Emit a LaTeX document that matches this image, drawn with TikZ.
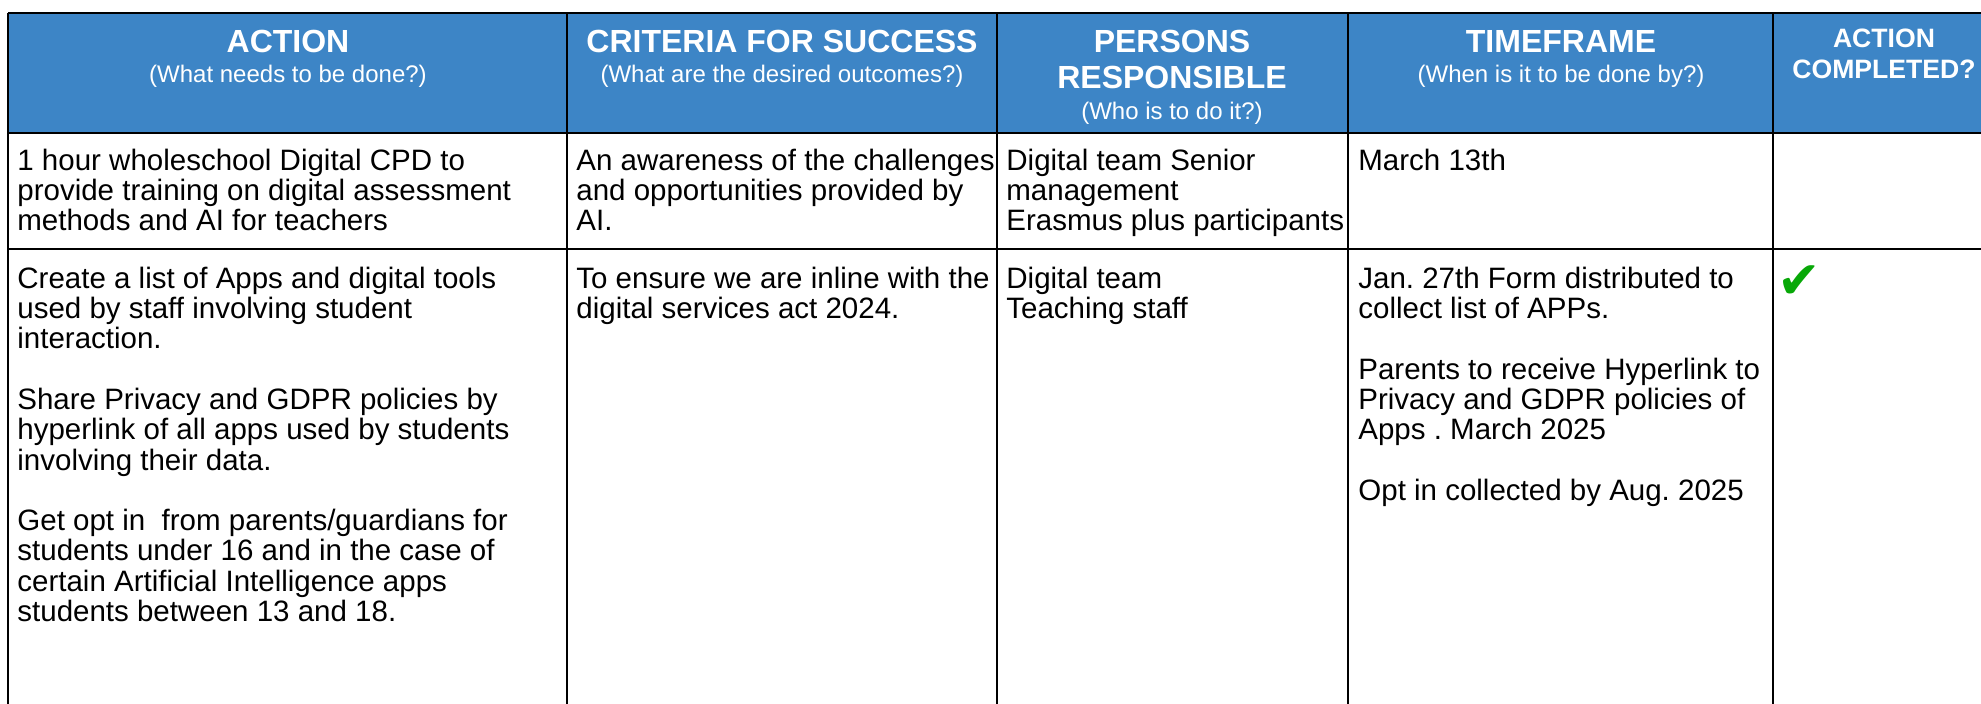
\documentclass[tikz,border=0pt]{standalone}
\usepackage{xcolor}
\usepackage{fontspec}
\setmainfont{Liberation Sans}
\newfontfamily\tickfont{DejaVu Sans}
\usepackage{tikz}
\definecolor{headblue}{HTML}{3D85C6}
\definecolor{tickgreen}{HTML}{08A808}
\frenchspacing
\tikzset{
    x=0.5pt,                                    % one unit is one pixel of the sheet
    y=-0.5pt,                                   % y runs down the sheet
    tablerule/.style={line width=1.3pt, black}, % the lines of the table
    headtitle/.style={text=white, inner sep=0pt, align=center, font=\fontsize{16}{18}\selectfont\bfseries},
    headsub/.style={text=white, inner sep=0pt, anchor=base, font=\fontsize{12}{14}\selectfont},
    headsmall/.style={text=white, inner sep=0pt, align=center, font=\fontsize{13.3}{15.5}\selectfont\bfseries},
    celltext/.style={anchor=north west, inner sep=0pt, align=left, font=\fontsize{14.75}{15.15}\selectfont},
    tick/.style={text=tickgreen, inner sep=0pt, font=\tickfont\fontsize{26}{26}\selectfont},
}

\begin{document}
\begin{tikzpicture}

\useasboundingbox (0,0) rectangle (1981,704);

\begin{scope}
\clip (0,0) rectangle (1981,704);
\fill[headblue] (8,13) rectangle (2000,133);
\draw[tablerule] (8,13) -- (2000,13);
\draw[tablerule] (8,133) -- (2000,133);
\draw[tablerule] (8,249) -- (2000,249);
\foreach \x in {8,567,997,1348,1773}
    \draw[tablerule] (\x,13) -- (\x,710);
\end{scope}

\node[headtitle, anchor=base] (hAction) at (288,53) {ACTION};
\node[headsub] (sAction) at (288,83) {(What needs to be done?)};
\node[headtitle, anchor=base] (hCriteria) at (782,53) {CRITERIA FOR SUCCESS};
\node[headsub] (sCriteria) at (782,83) {(What are the desired outcomes?)};
\node[headtitle, anchor=north] (hPersons) at (1172,30) {PERSONS\\RESPONSIBLE};
\node[headsub] (sPersons) at (1172,120) {(Who is to do it?)};
\node[headtitle, anchor=base] (hTime) at (1561,53) {TIMEFRAME};
\node[headsub] (sTime) at (1561,83) {(When is it to be done by?)};
\node[headsmall, anchor=north] (hDone) at (1884,29) {ACTION\\COMPLETED?};

\node[celltext] (aCpd) at (17,148.5) {1 hour wholeschool Digital CPD to\\provide training on digital assessment\\methods and AI for teachers};
\node[celltext] (cCpd) at (576,148.5) {An awareness of the challenges\\and opportunities provided by\\AI.};
\node[celltext] (pCpd) at (1006,148.5) {Digital team Senior\\management\\Erasmus plus participants};
\node[celltext] (tCpd) at (1358,148.5) {March 13th};

\node[celltext] (aApps) at (17,266.5) {Create a list of Apps and digital tools\\used by staff involving student\\interaction.\\[15.15pt]Share Privacy and GDPR policies by\\hyperlink of all apps used by students\\involving their data.\\[15.15pt]Get opt in~ from parents/guardians for\\students under 16 and in the case of\\certain Artificial Intelligence apps\\students between 13 and 18.};
\node[celltext] (cApps) at (576,266.5) {To ensure we are inline with the\\digital services act 2024.};
\node[celltext] (pApps) at (1006,266.5) {Digital team\\Teaching staff};
\node[celltext] (tApps) at (1358,266.5) {Jan. 27th Form distributed to\\collect list of APPs.\\[15.15pt]Parents to receive Hyperlink to\\Privacy and GDPR policies of\\Apps . March 2025\\[15.15pt]Opt in collected by Aug. 2025};
\node[tick] (dApps) at (1799,282) {✔};

\end{tikzpicture}
\end{document}
